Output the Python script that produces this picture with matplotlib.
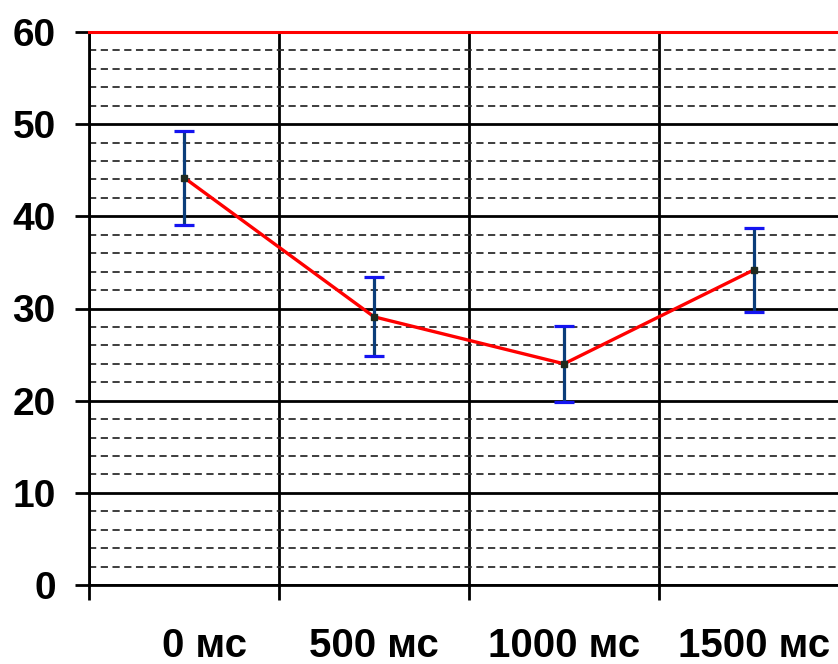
import matplotlib.pyplot as plt
from matplotlib.ticker import MultipleLocator, FixedLocator
import matplotlib.transforms as mtransforms
import numpy as np

plt.rcParams['font.family'] = ['Liberation Sans', 'DejaVu Sans']

# данные
labels = ['0 мс', '500 мс', '1000 мс', '1500 мс']
values = [44.2, 29.1, 24.0, 34.2]
errors = [5.1, 4.3, 4.15, 4.55]

x = np.arange(len(labels))

fig = plt.figure(figsize=(8.38, 6.64), dpi=100)
ax = fig.add_axes([89 / 838, 79 / 664, 760 / 838, 553 / 664])

ax.set_xlim(-0.5, len(labels) - 0.5)
ax.set_ylim(0, 60)

# сетка
ax.yaxis.set_major_locator(MultipleLocator(10))
ax.yaxis.set_minor_locator(MultipleLocator(2))
ax.grid(which='major', axis='y', color='black', lw=2, zorder=1)
ax.grid(which='minor', axis='y', color='#2e2e2e', lw=1.3,
        linestyle=(0, (4, 2.5)), zorder=1)

ax.xaxis.set_major_locator(FixedLocator(np.arange(-0.5, len(labels), 1.0)))
ax.xaxis.set_minor_locator(FixedLocator(x))
ax.grid(which='major', axis='x', color='black', lw=2, zorder=1)
ax.set_xticklabels([], minor=False)
ax.set_xticks(x, labels, minor=True)

ax.tick_params(axis='x', which='major', length=11, width=2, direction='out')
ax.tick_params(axis='x', which='minor', length=0, pad=30, labelsize=29)
ax.tick_params(axis='y', which='major', length=10, width=2, direction='out',
               pad=14, labelsize=28)
ax.tick_params(axis='y', which='minor', length=0)
for lab in ax.get_xticklabels(minor=True) + ax.get_yticklabels():
    lab.set_fontweight('bold')

# первая подпись смещена вправо
first = ax.get_xticklabels(minor=True)[0]
first.set_transform(first.get_transform() +
                    mtransforms.ScaledTranslation(21 / 100, 0, fig.dpi_scale_trans))

for s in ['left', 'bottom']:
    ax.spines[s].set_color('black')
    ax.spines[s].set_linewidth(2)
ax.spines['right'].set_visible(False)
ax.spines['top'].set_color('red')
ax.spines['top'].set_linewidth(2.2)

ax.plot(x, values, color='red', lw=2.4, zorder=3)
_, caps, bars = ax.errorbar(x, values, yerr=errors, fmt='none', ecolor='#0b3d7a',
                            elinewidth=2.3, capsize=7, capthick=2.3, zorder=4)
for c in caps:
    c.set_markeredgecolor('#1414f0')
ax.plot(x, values, linestyle='none', marker='s', markersize=4,
        color='#1f2a1f', zorder=5)

fig.savefig('out.png', dpi=100)
